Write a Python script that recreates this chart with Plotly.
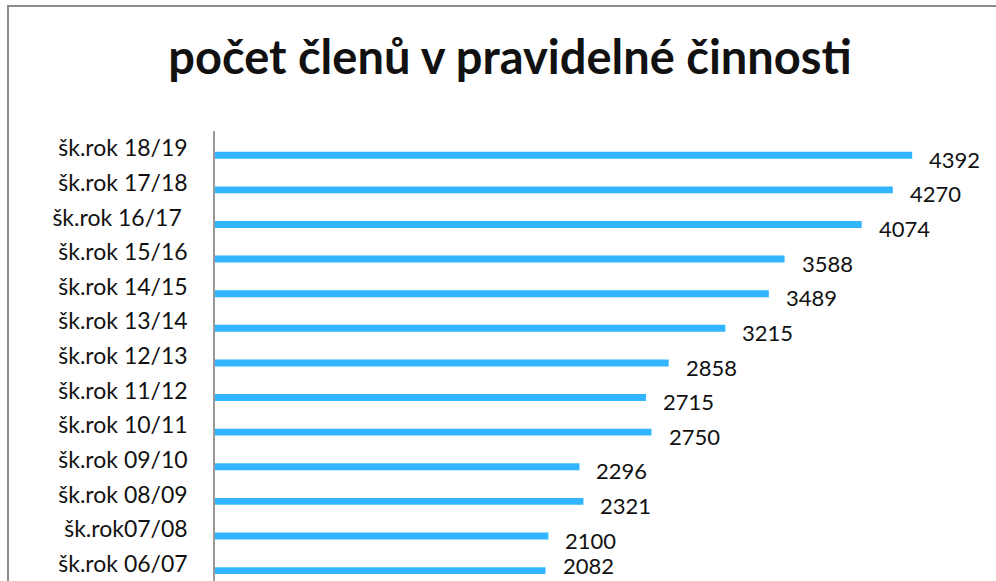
import plotly.graph_objects as go

categories = ["šk.rok 06/07", "šk.rok07/08", "šk.rok 08/09", "šk.rok 09/10",
              "šk.rok 10/11", "šk.rok 11/12", "šk.rok 12/13", "šk.rok 13/14",
              "šk.rok 14/15", "šk.rok 15/16", "šk.rok 16/17\u00a0", "šk.rok 17/18",
              "šk.rok 18/19"]
values = [2082, 2100, 2321, 2296, 2750, 2715, 2858, 3215, 3489, 3588, 4074, 4270, 4392]
title_text = "počet členů v pravidelné činnosti"

W, H = 996, 581
L, T = 215, 131
BAR_COLOR = "#33B4FF"
FONT = "Lato"

fig = go.Figure()
fig.add_trace(go.Bar(
    x=values, y=categories, orientation="h",
    marker=dict(color=BAR_COLOR, line=dict(width=0)),
    width=0.2, offset=-0.3,
    hoverinfo="x+y",
))

for i, (v, c) in enumerate(zip(values, categories)):
    fig.add_annotation(x=v, y=c, xref="x", yref="y", text=str(v),
                       showarrow=False, xanchor="left", yanchor="middle",
                       xshift=15, yshift=(-2 if i == 0 else -11),
                       font=dict(family=FONT, size=22, color="#111111"))

plot_w = W - L
plot_h = H - T
fig.add_shape(type="rect", xref="paper", yref="paper",
              x0=(8 - L) / plot_w, x1=1.1,
              y0=-0.2, y1=1 + (T - 6) / plot_h,
              line=dict(color="#8c8c8c", width=2), fillcolor="rgba(0,0,0,0)",
              layer="below")

fig.update_layout(
    width=W, height=H,
    margin=dict(l=L, r=0, t=T, b=0, pad=0),
    paper_bgcolor="white", plot_bgcolor="white",
    showlegend=False,
    title=dict(text="<b>" + title_text + "</b>", x=510 / W, xref="container",
               xanchor="center", y=1 - 58 / H, yref="container", yanchor="middle",
               font=dict(family=FONT, size=47, color="#111111")),
    xaxis=dict(range=[0, 4920], visible=False, fixedrange=True),
    yaxis=dict(type="category", categoryorder="array", categoryarray=categories,
               range=[-0.5, 12.5], showline=True, linecolor="#999999", linewidth=1.5,
               showgrid=False, zeroline=False, ticks="", ticklabelstandoff=21,
               tickfont=dict(family=FONT, size=23, color="#111111")),
)

fig.write_html("out.html", config={"displayModeBar": False},
               post_script="document.body.style.margin='0';document.body.style.overflow='hidden';")
